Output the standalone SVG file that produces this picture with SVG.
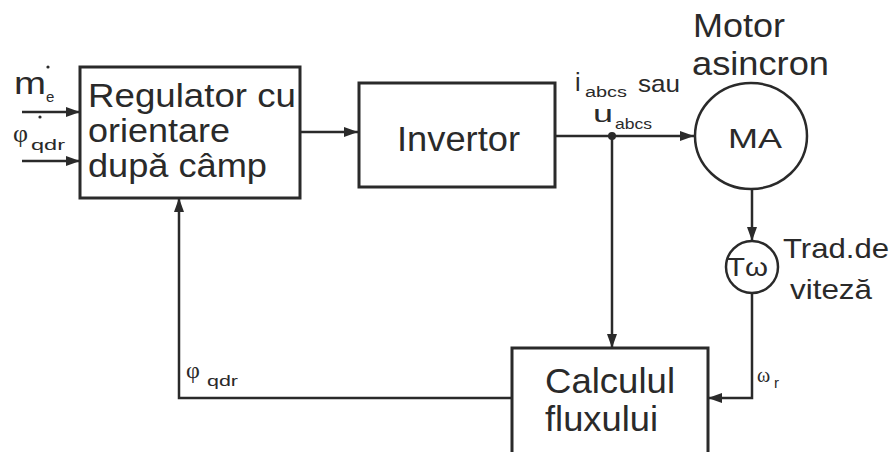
<svg xmlns="http://www.w3.org/2000/svg" width="895" height="452" viewBox="0 0 895 452">
<defs>
<style>
.box{fill:#fff;stroke:#2a2a2a;stroke-width:3}
.ln{fill:none;stroke:#2a2a2a;stroke-width:2.5}
.t{font-family:"Liberation Sans",Arial,sans-serif;fill:#2a2a2a}
.big{font-size:35px}
.reg{font-size:33px}
.sub{font-size:15px}
.g{font-family:"Liberation Serif","DejaVu Serif",serif;fill:#2a2a2a}
</style>
<marker id="ah" viewBox="0 0 14 10" refX="14" refY="5" markerWidth="14" markerHeight="10" markerUnits="userSpaceOnUse" orient="auto">
<path d="M0,0 L14,5 L0,10 Z" fill="#2a2a2a"/>
</marker>
</defs>
<rect width="895" height="452" fill="#fff"/>

<g id="connectors">
<line class="ln" x1="22" y1="112" x2="80" y2="112" marker-end="url(#ah)"/>
<line class="ln" x1="22" y1="161" x2="80" y2="161" marker-end="url(#ah)"/>
<line class="ln" x1="300" y1="132" x2="358" y2="132" marker-end="url(#ah)"/>
<line class="ln" x1="555" y1="136" x2="694" y2="136" marker-end="url(#ah)"/>
<circle cx="612" cy="136" r="4" fill="#2a2a2a"/>
<line class="ln" x1="612" y1="136" x2="612" y2="348" marker-end="url(#ah)"/>
<line class="ln" x1="752" y1="189" x2="752" y2="241" marker-end="url(#ah)"/>
<polyline class="ln" points="752,293 752,398 708,398" marker-end="url(#ah)"/>
<polyline class="ln" points="512,398 179,398 179,198" marker-end="url(#ah)"/>
</g>

<g id="regulator">
<rect class="box" x="80" y="67" width="220" height="131"/>
<text class="t reg" x="88" y="107" textLength="208" lengthAdjust="spacingAndGlyphs">Regulator cu</text>
<text class="t reg" x="88" y="142" textLength="142" lengthAdjust="spacingAndGlyphs">orientare</text>
<text class="t reg" x="88" y="177" textLength="179" lengthAdjust="spacingAndGlyphs">dupǎ câmp</text>
</g>

<g id="invertor">
<rect class="box" x="359" y="83" width="196" height="104"/>
<text class="t big" x="397" y="151" textLength="123" lengthAdjust="spacingAndGlyphs">Invertor</text>
</g>

<g id="motor">
<ellipse cx="751" cy="136" rx="56" ry="53" fill="#fff" stroke="#2a2a2a" stroke-width="2.5"/>
<text class="t" font-size="28" x="728" y="148" textLength="54" lengthAdjust="spacingAndGlyphs">MA</text>
<text class="t" font-size="33" x="693" y="37" textLength="92" lengthAdjust="spacingAndGlyphs">Motor</text>
<text class="t" font-size="33" x="692" y="75" textLength="137" lengthAdjust="spacingAndGlyphs">asincron</text>
</g>

<g id="traductor">
<circle cx="752" cy="267" r="26" fill="#fff" stroke="#2a2a2a" stroke-width="2.5"/>
<text class="t" font-size="25" x="727" y="276" textLength="41" lengthAdjust="spacingAndGlyphs">Tω</text>
<text class="t" font-size="28" x="783" y="258" textLength="106" lengthAdjust="spacingAndGlyphs">Trad.de</text>
<text class="t" font-size="28" x="790" y="299" textLength="82" lengthAdjust="spacingAndGlyphs">viteză</text>
</g>

<g id="calcul">
<rect class="box" x="512" y="348" width="196" height="120"/>
<text class="t big" x="545" y="393" textLength="130" lengthAdjust="spacingAndGlyphs">Calculul</text>
<text class="t big" x="545" y="431" textLength="113" lengthAdjust="spacingAndGlyphs">fluxului</text>
</g>

<g id="labels">
<text class="t" font-size="32" x="14" y="94" textLength="32" lengthAdjust="spacingAndGlyphs">m</text>
<text class="t sub" x="46" y="102">e</text>
<circle cx="48" cy="67" r="1.6" fill="#2a2a2a"/>
<text class="g" font-size="26" x="13" y="142">φ</text>
<text class="t sub" x="31" y="150" textLength="34" lengthAdjust="spacingAndGlyphs">qdr</text>
<circle cx="40" cy="117" r="1.6" fill="#2a2a2a"/>
<text class="t" font-size="25" x="575" y="91">i</text>
<text class="t" font-size="14" x="585" y="97" textLength="42" lengthAdjust="spacingAndGlyphs">abcs</text>
<text class="t" font-size="24" x="638" y="92" textLength="42" lengthAdjust="spacingAndGlyphs">sau</text>
<text class="t" font-size="24" x="593" y="122" textLength="20" lengthAdjust="spacingAndGlyphs">u</text>
<text class="t sub" x="615" y="129" textLength="37" lengthAdjust="spacingAndGlyphs">abcs</text>
<text class="g" font-size="24" x="186" y="378">φ</text>
<text class="t sub" x="207" y="386" textLength="31" lengthAdjust="spacingAndGlyphs">qdr</text>
<text class="g" font-size="20" x="757" y="382">ω</text>
<text class="t sub" x="774" y="388">r</text>
</g>
</svg>
